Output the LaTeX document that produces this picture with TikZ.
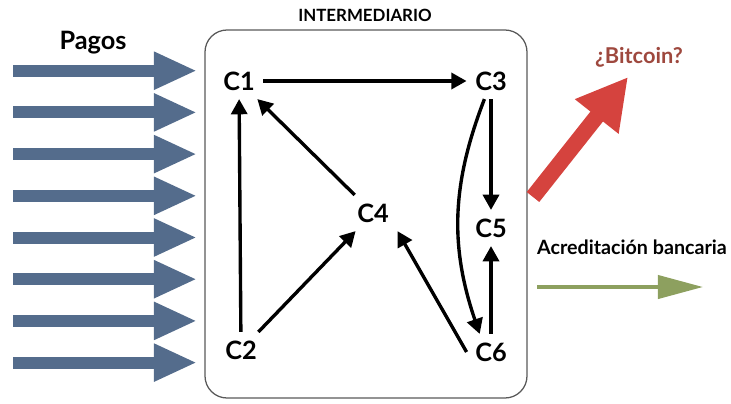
\documentclass[tikz,border=0pt]{standalone}
\usepackage{fontspec}
\setmainfont{Lato}
\usetikzlibrary{arrows.meta, positioning}
\definecolor{pagoazul}{RGB}{84,108,140}
\definecolor{rojoflecha}{RGB}{213,67,62}
\definecolor{rojotexto}{RGB}{158,72,62}
\definecolor{verdeflecha}{RGB}{141,160,95}

\begin{document}
\begin{tikzpicture}[x=0.025cm, y=-0.025cm,
  cuenta/.style={font=\fontsize{18}{20}\selectfont\bfseries, inner sep=6pt},
  flujo/.style={-{Triangle[length=0.38cm,width=0.4cm]}, line width=2.4pt},
  pago/.style={pagoazul, line width=0.3cm, -{Triangle[length=1.075cm,width=0.875cm]}}]
\useasboundingbox (0,0) rectangle (731,403);
% Intermediary box
\draw[black!65, line width=0.9pt, rounded corners=0.55cm] (205,30) rectangle (527,398);
\node[font=\fontsize{12}{14}\selectfont\bfseries] (inter) at (365,15) {INTERMEDIARIO};
% Incoming payments
\node[font=\fontsize{18}{20}\selectfont\bfseries] (pagos) at (93,43) {Pagos};
\foreach \i in {0,...,7} {
    \coordinate (p\i) at (13,{70.7+41.7*\i});
    \coordinate (q\i) at (197,{70.7+41.7*\i});
    \draw[pago] (p\i) -- (q\i);
}
% Accounts
\node[cuenta] (c1) at (239,81) {C1};
\node[cuenta] (c3) at (491,81) {C3};
\node[cuenta] (c4) at (373,213) {C4};
\node[cuenta] (c5) at (491,228) {C5};
\node[cuenta] (c2) at (241,350) {C2};
\node[cuenta] (c6) at (491,352) {C6};
\draw[flujo] (c1) -- (c3);
\draw[flujo] (c2) -- (c1);
\draw[flujo] (c4) -- (c1);
\draw[flujo] (c2) -- (c4);
\draw[flujo] (c6.west) -- (c4.south east);
\draw[flujo] (c3) -- (c5);
\draw[flujo] (c6) -- (c5);
\draw[flujo] (c3.250) to[bend right=20] (c6.122);
% Outputs
\node[font=\fontsize{15.5}{17}\selectfont\bfseries, text=rojotexto] (bitcoin) at (639,57) {¿Bitcoin?};
\coordinate (rojoini) at (533,197);
\coordinate (rojofin) at (628,77);
\draw[rojoflecha, line width=0.4cm, -{Triangle[length=1.26cm,width=1.3cm]}] (rojoini) -- (rojofin);
\node[font=\fontsize{14}{16}\selectfont\bfseries] (acred) at (632,247) {Acreditación bancaria};
\coordinate (verdeini) at (537,287);
\coordinate (verdefin) at (703,287);
\draw[verdeflecha, line width=0.1cm, -{Triangle[length=1.125cm,width=0.575cm]}] (verdeini) -- (verdefin);
\end{tikzpicture}
\end{document}
